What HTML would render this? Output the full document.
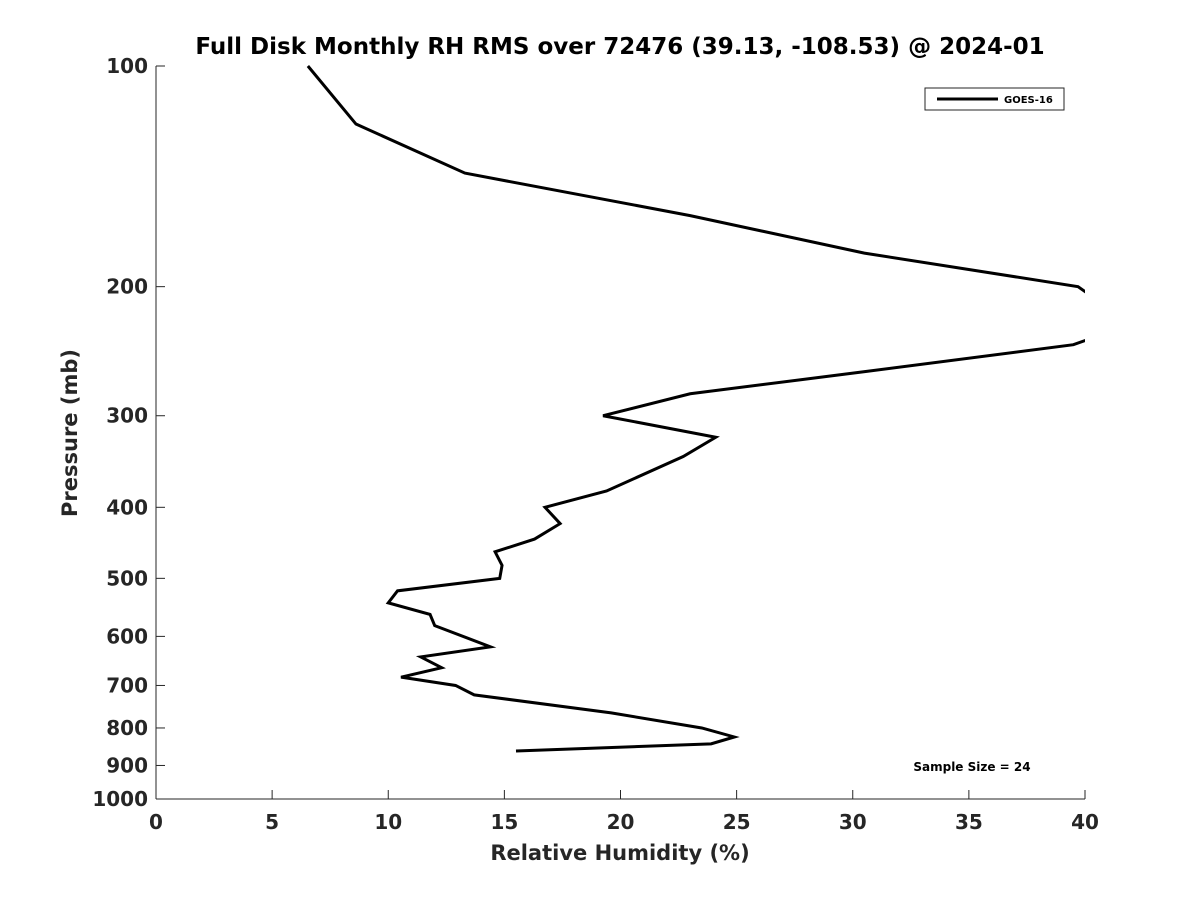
<!DOCTYPE html>
<html><head><meta charset="utf-8"><style>
body{margin:0;background:#fff}
text{font-family:"DejaVu Sans","Liberation Sans",sans-serif;font-weight:bold;fill:#262626}
</style></head><body>
<svg id="chart" width="1200" height="900" xmlns="http://www.w3.org/2000/svg">
<rect width="1200" height="900" fill="#fff"/>
<text x="620" y="54" text-anchor="middle" font-size="23" style="fill:#000">Full Disk Monthly RH RMS over 72476 (39.13, -108.53) @ 2024-01</text>
<g id="axes"></g>
<g id="series"></g>
<g>
<rect x="925" y="88" width="139" height="22" fill="#fff" stroke="#262626" stroke-width="1"/>
<line x1="937" y1="99" x2="998" y2="99" stroke="#000" stroke-width="3"/>
<text x="1004" y="103" font-size="10" style="fill:#000">GOES-16</text>
</g>
<text x="972" y="771" text-anchor="middle" font-size="12" style="fill:#000">Sample Size = 24</text>
<text x="620" y="860" text-anchor="middle" font-size="21">Relative Humidity (%)</text>
<text transform="translate(77,433) rotate(-90)" text-anchor="middle" font-size="21">Pressure (mb)</text>
</svg>
<script>
const xTicks=[0,5,10,15,20,25,30,35,40];
const yTicks=[100,200,300,400,500,600,700,800,900,1000];
const pressures=[100,120,140,160,180,200,225,240,261,280,300,321,341,380,400,421,442,460,480,500,520,540,560,580,620,640,662,682,700,721,763,800,823,841,860];
const rhValues=[6.54,8.61,13.3,23.0,30.5,39.7,42.0,39.5,30.6,23.0,19.25,24.1,22.7,19.4,16.75,17.4,16.3,14.6,14.9,14.8,10.4,10.0,11.8,12.0,14.4,11.4,12.3,10.55,12.9,13.7,19.6,23.5,24.9,23.9,15.5];
const L=156,R=1085,T=66,B=799,ns="http://www.w3.org/2000/svg";
const xS=v=>L+(v-0)/40*(R-L);
const yS=p=>T+Math.log10(p/100)*(B-T);
const ax=document.getElementById('axes');
function mk(tag,at,parent){const e=document.createElementNS(ns,tag);for(const k in at)e.setAttribute(k,at[k]);parent.appendChild(e);return e;}
const xl=mk('line',{x1:L,y1:B,x2:R,y2:B,stroke:'#262626','stroke-width':1},ax);


const yl=mk('line',{x1:L,y1:T,x2:L,y2:B,stroke:'#262626','stroke-width':1},ax);


xTicks.forEach(v=>{const x=xS(v);
mk('line',{x1:x,y1:B,x2:x,y2:B-9,stroke:'#262626'},ax);
const t=mk('text',{x:x,y:B+30,'text-anchor':'middle','font-size':20},ax);t.textContent=v;

});
yTicks.forEach(p=>{const y=yS(p);
mk('line',{x1:L,y1:y,x2:L+9,y2:y,stroke:'#262626'},ax);
const t=mk('text',{x:L-8,y:y+7,'text-anchor':'end','font-size':20},ax);t.textContent=p;

});
const se=document.getElementById('series');
mk('clipPath',{id:'pc'},se);
mk('rect',{x:L,y:T-2,width:R-L,height:B-T+4},document.getElementById('pc'));
const pl=mk('polyline',{points:pressures.map((p,i)=>xS(rhValues[i])+','+yS(p)).join(' '),fill:'none',stroke:'#000','stroke-width':3,'clip-path':'url(#pc)'},se);


</script>
</body></html>
